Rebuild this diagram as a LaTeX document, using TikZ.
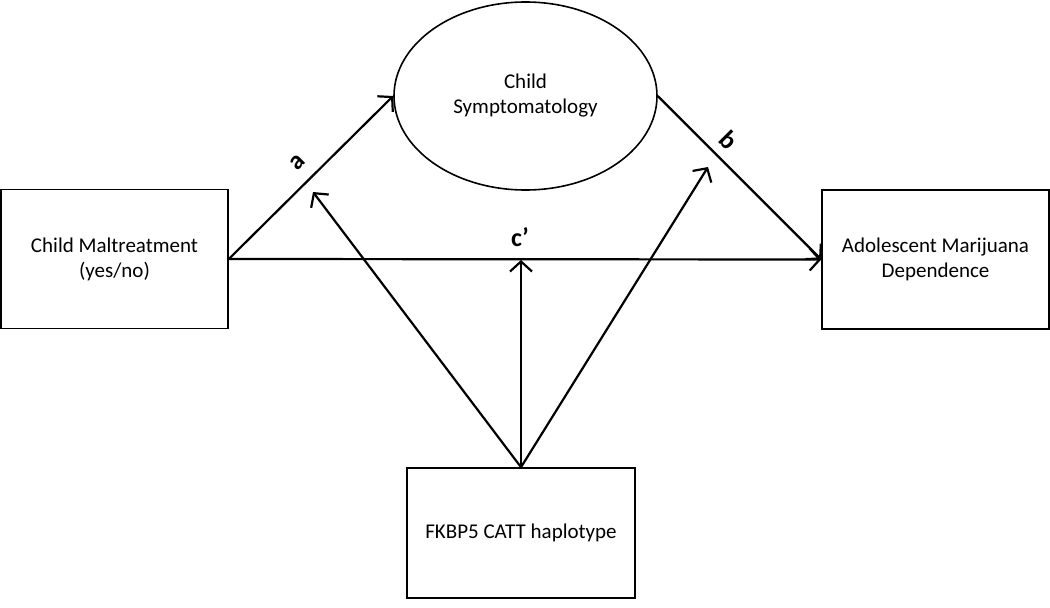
\documentclass[tikz,border=0pt]{standalone}
\usepackage{fontspec}
\setmainfont{Carlito}
\usetikzlibrary{arrows.meta,shapes.geometric}

\tikzset{
  boite/.style={draw, line width=1.6pt, rectangle, align=center, font=\fontsize{21}{25}\selectfont},
  ovale/.style={draw, line width=1.6pt, ellipse, inner sep=0pt, align=center, font=\fontsize{21}{25}\selectfont},
  fleche/.style={line width=2.2pt, -{Straight Barb[length=10pt,width=22pt,line width=2.2pt]}},
  lettre/.style={font=\fontsize{26}{28}\selectfont\bfseries}
}

\begin{document}
\begin{tikzpicture}[x=1pt,y=-1pt]
					\useasboundingbox (0,0) rectangle (1050,608);
					
					%BOITES
					\node[boite, minimum width=227pt, minimum height=139pt] (CM) at (114.5,259) {Child Maltreatment\\(yes/no)};
					\node[boite, minimum width=227pt, minimum height=139pt] (AMD) at (935.5,259.5) {Adolescent Marijuana\\Dependence};
					\node[ovale, minimum width=263pt, minimum height=188pt] (CS) at (525.5,96) {Child\\Symptomatology};
					\node[boite, minimum width=228pt, minimum height=130pt] (FK) at (521,533) {FKBP5 CATT haplotype};
					
					%a, b et c'
					\draw[fleche] (CM.east) -- (CS.west);
					\draw[fleche] (CS.east) -- (AMD.west);
					\draw[fleche] (CM.east) -- (AMD.west);
					\node[lettre, rotate=45] (a) at (298,162) {a};
					\node[lettre, rotate=-45] (b) at (729,140) {b};
					\node[lettre] (c) at (520,237) {c’};
					
					%moderation
					\coordinate (Ma) at (313,192);
					\coordinate (Mb) at (708,167);
					\coordinate (Mc) at (521,260);
					\draw[fleche] (FK.north) -- (Ma);
					\draw[fleche] (FK.north) -- (Mb);
					\draw[fleche] (FK.north) -- (Mc);
				  \end{tikzpicture}
\end{document}
